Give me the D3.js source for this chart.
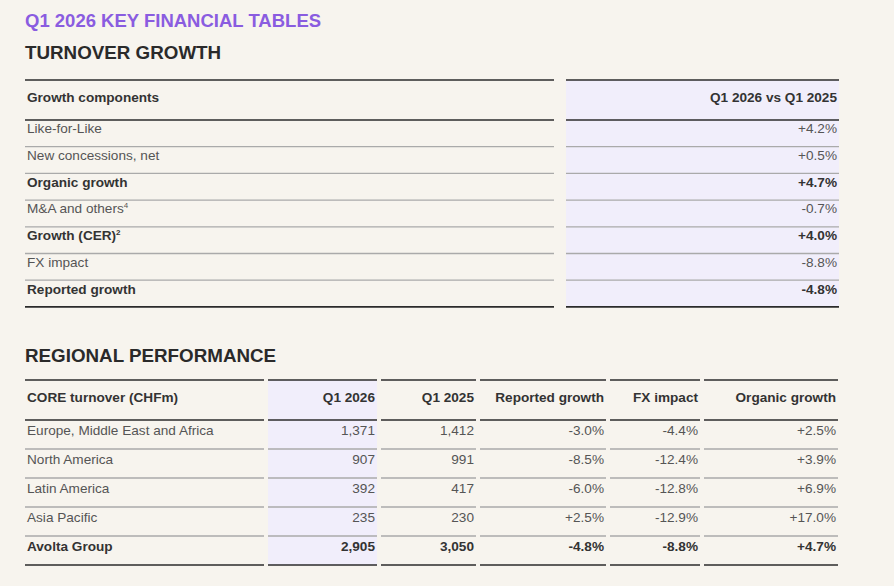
<!DOCTYPE html>
<html><head><meta charset="utf-8">
<script src="https://cdn.jsdelivr.net/npm/d3@7"></script>
<style>body{margin:0;background:#f7f4ee;font-family:"Liberation Sans",Arial,sans-serif;}</style>
</head><body><svg></svg>
<script>
var width = 894, height = 586;
var svg = d3.select("svg").attr("width", width).attr("height", height);

// turnover growth table
var growthLabels = ["Like-for-Like", "New concessions, net", "Organic growth", "M&A and others", "Growth (CER)", "FX impact", "Reported growth"];
var growthSup = ["", "", "", "4", "2", "", ""];
var growthBold = [false, false, true, false, true, false, true];
var growthValues = ["+4.2%", "+0.5%", "+4.7%", "-0.7%", "+4.0%", "-8.8%", "-4.8%"];

// regional performance table
var regionHeaders = ["CORE turnover (CHFm)", "Q1 2026", "Q1 2025", "Reported growth", "FX impact", "Organic growth"];
var regions = ["Europe, Middle East and Africa", "North America", "Latin America", "Asia Pacific", "Avolta Group"];
var q1_2026 = ["1,371", "907", "392", "235", "2,905"];
var q1_2025 = ["1,412", "991", "417", "230", "3,050"];
var reported = ["-3.0%", "-8.5%", "-6.0%", "+2.5%", "-4.8%"];
var fxImpact = ["-4.4%", "-12.4%", "-12.8%", "-12.9%", "-8.8%"];
var organic = ["+2.5%", "+3.9%", "+6.9%", "+17.0%", "+4.7%"];

var ink = "#333", grey = "#555", shade = "#f1eefb", fs = 13.6;

svg.append("text").attr("x", 25).attr("y", 27).attr("fill", "#8a5ce0")
    .attr("font-size", 18.5).attr("font-weight", "bold").text("Q1 2026 KEY FINANCIAL TABLES");

function heading(y, t) {
    svg.append("text").attr("x", 25).attr("y", y).attr("fill", "#2a2a2a")
        .attr("font-size", 18.8).attr("font-weight", "bold").text(t);
}

// generic table drawer
function table(cols, top, headH, rowH, headers, rows, bold, sups, shadeCol) {
    var n = rows.length;
    var y = d3.scaleLinear().domain([0, n]).range([top + headH, top + headH + rowH * n]);
    var bottom = y(n);
    var g = svg.append("g");
    cols.forEach(function (c, ci) {
        if (ci === shadeCol)
            g.append("rect").attr("x", c[0]).attr("y", top).attr("width", c[1] - c[0])
                .attr("height", bottom - top).attr("fill", shade);
        [top, top + headH, bottom].forEach(function (ly) {
            g.append("line").attr("x1", c[0]).attr("x2", c[1]).attr("y1", ly).attr("y2", ly)
                .attr("stroke", "#2b2b2b").attr("stroke-width", 1.6);
        });
        for (var i = 1; i < n; i++)
            g.append("line").attr("x1", c[0]).attr("x2", c[1]).attr("y1", y(i)).attr("y2", y(i))
                .attr("stroke", "#aaa").attr("stroke-width", 1.3);
        var left = ci === 0, tx = left ? c[0] + 2 : c[1] - 2;
        g.append("text").attr("x", tx).attr("y", top + headH / 2 + 2)
            .attr("text-anchor", left ? "start" : "end").attr("font-size", fs)
            .attr("font-weight", "bold").attr("fill", ink).text(headers[ci]);
        rows.forEach(function (r, ri) {
            var t = g.append("text").attr("x", tx).attr("y", y(ri) + rowH / 2 + 0)
                .attr("text-anchor", left ? "start" : "end").attr("font-size", fs)
                .attr("font-weight", bold[ri] ? "bold" : "normal")
                .attr("fill", bold[ri] ? ink : grey).text(r[ci]);
            if (left && sups && sups[ri])
                t.append("tspan").attr("font-size", 8).attr("dy", -5).text(sups[ri]);
        });
    });
}

heading(59, "TURNOVER GROWTH");
table([[25, 554], [566, 839]], 80, 40, 26.7, ["Growth components", "Q1 2026 vs Q1 2025"],
    growthLabels.map(function (d, i) { return [d, growthValues[i]]; }), growthBold, growthSup, 1);

heading(362, "REGIONAL PERFORMANCE");
table([[25, 264], [268, 377], [381, 476], [480, 606], [610, 700], [704, 838]], 380, 40, 29,
    regionHeaders, regions.map(function (d, i) { return [d, q1_2026[i], q1_2025[i], reported[i], fxImpact[i], organic[i]]; }),
    regions.map(function (d, i) { return i === regions.length - 1; }), null, 1);
</script></body></html>
